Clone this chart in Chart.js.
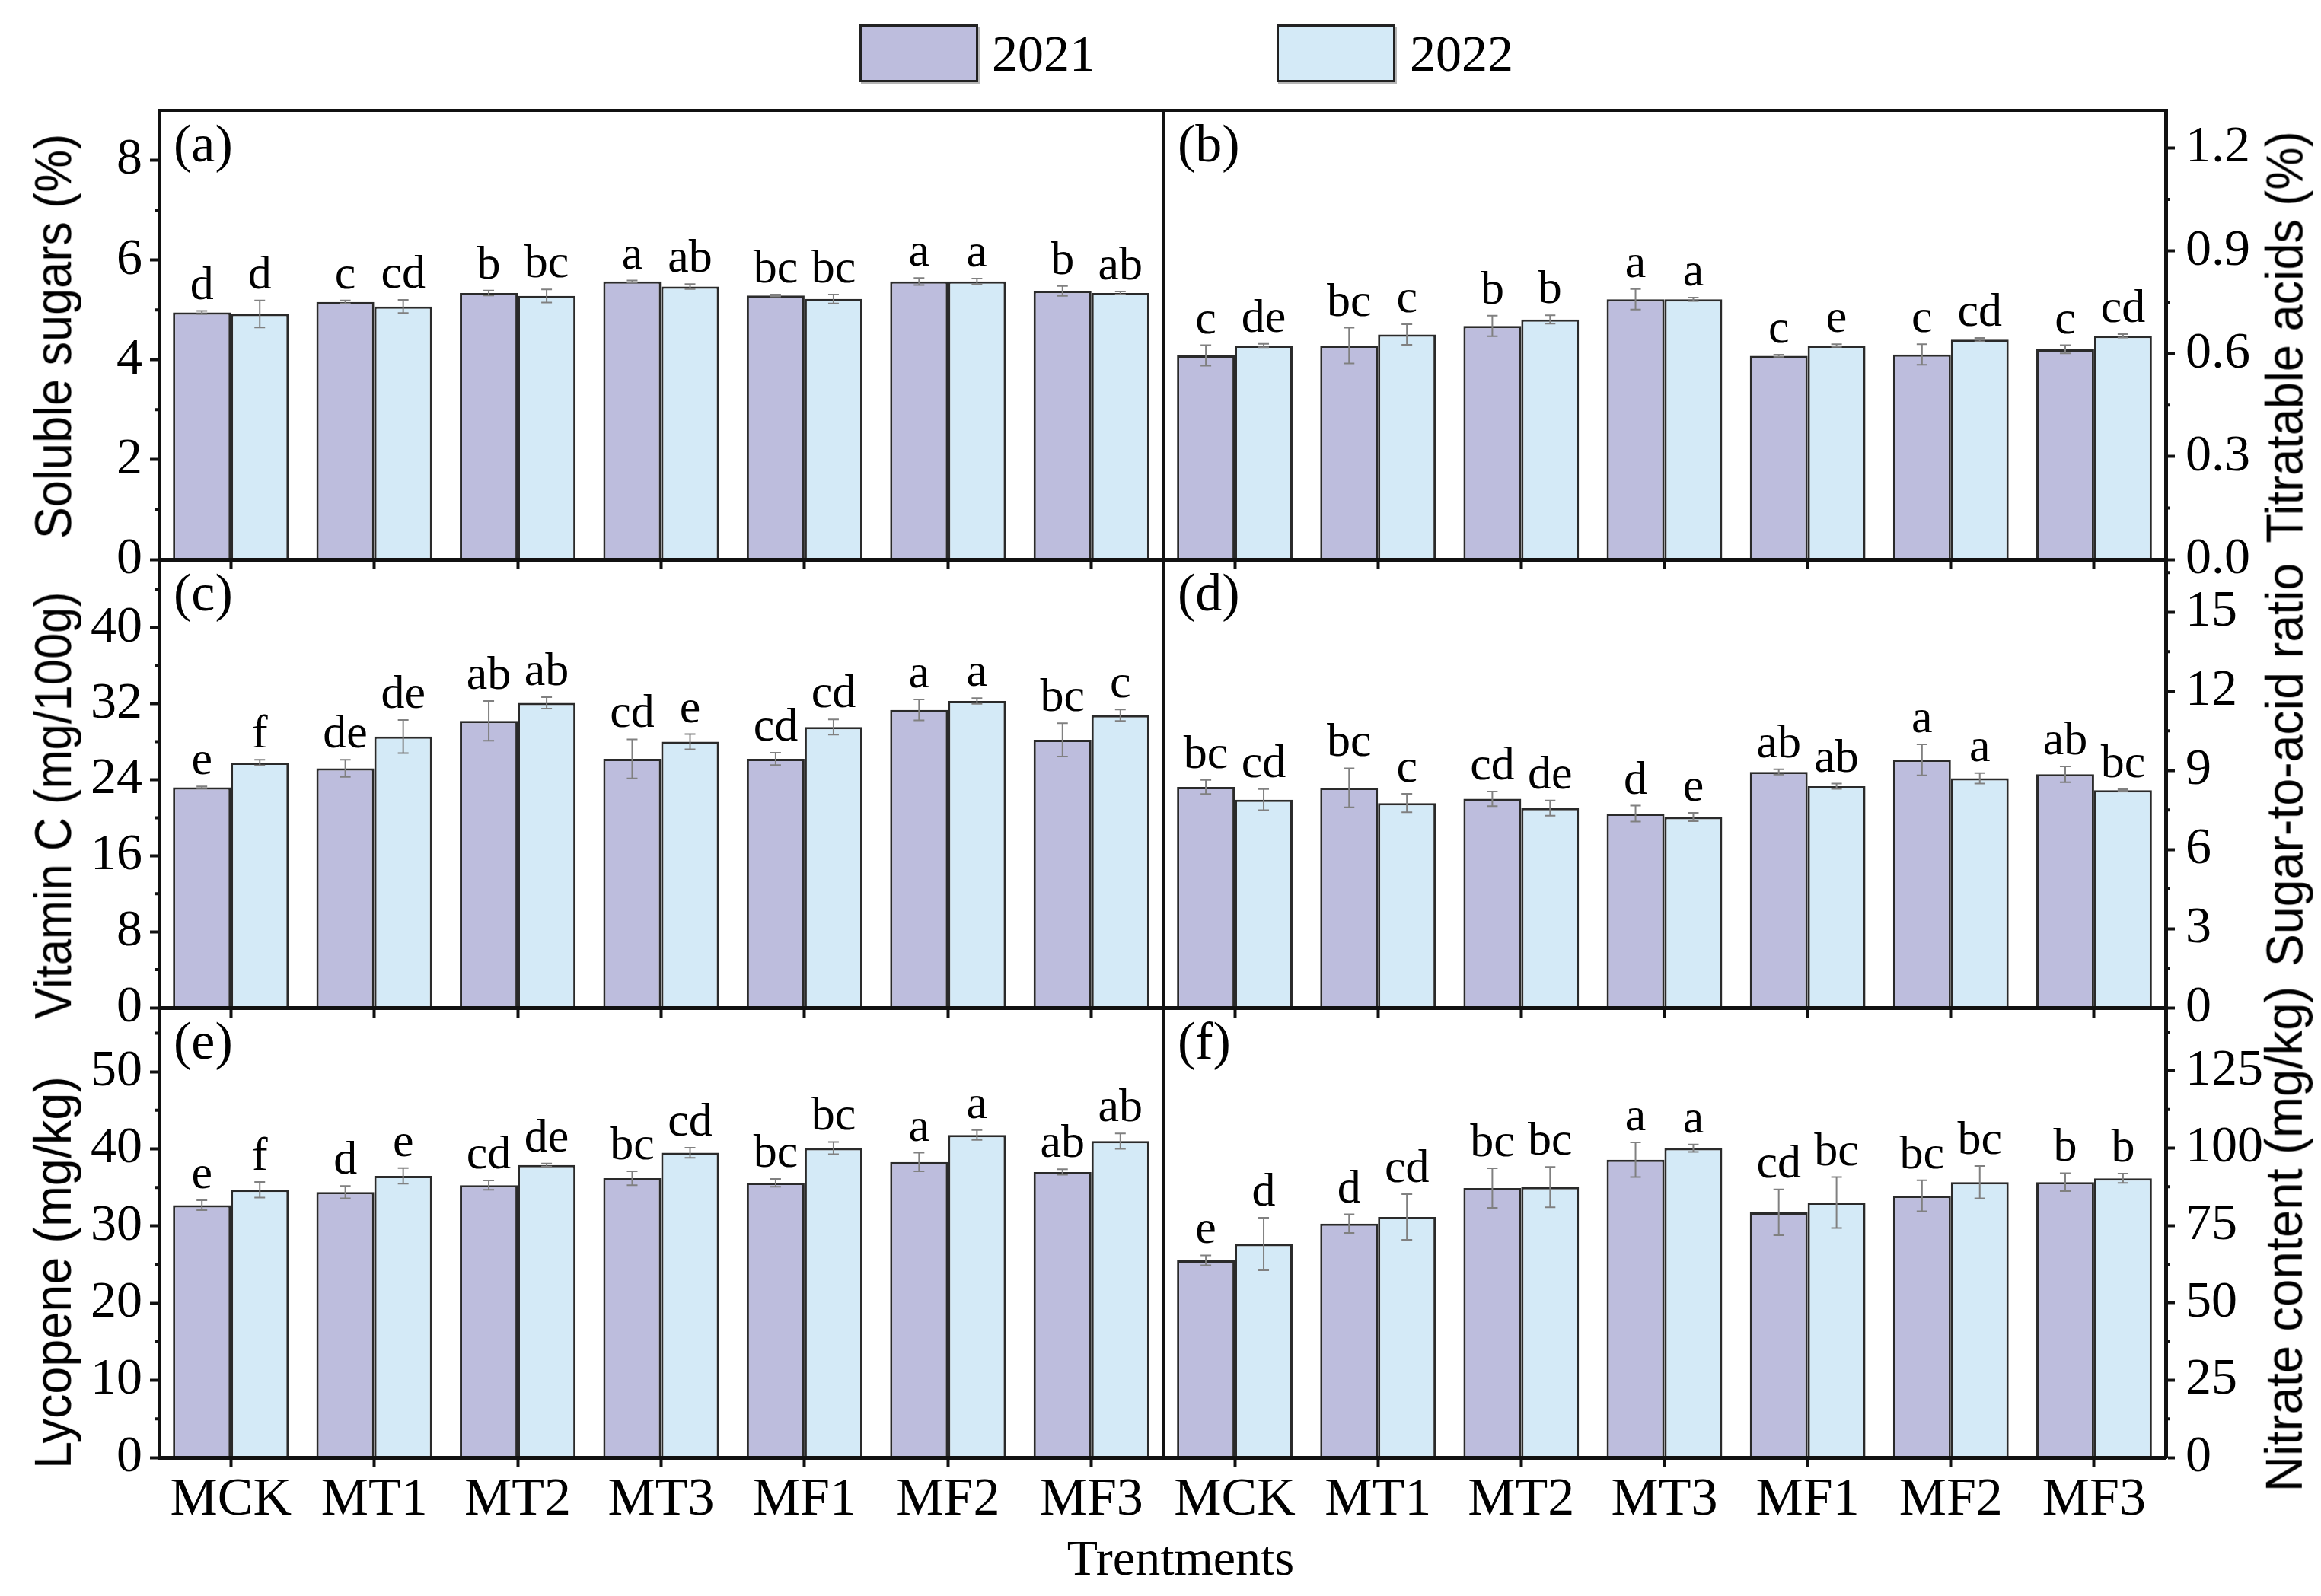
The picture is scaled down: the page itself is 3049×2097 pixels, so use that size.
<!DOCTYPE html>
<html>
<head>
<meta charset="utf-8">
<script src="https://cdn.jsdelivr.net/npm/chart.js@4.4.1/dist/chart.umd.min.js"></script>
<style>
  body { margin: 0; background: #fff; width: 3049px; height: 2097px; position: relative; overflow: hidden; font-family: "Liberation Serif", serif; }
  canvas { position: absolute; }
  .leg-box { position: absolute; width: 150px; height: 70px; border: 3px solid #222; box-shadow: 2px 3px 0 #b5b5b5; }
  .leg-text { position: absolute; font-size: 68px; line-height: 68px; color: #000; white-space: nowrap; }
  .ytitle { position: absolute; font-family: "Liberation Sans", sans-serif; font-size: 68px; line-height: 68px; white-space: nowrap; color: #000; transform-origin: 50% 50%; }
  #xtitle { position: absolute; left: 1051px; width: 1000px; top: 2013px; text-align: center; font-size: 66px; line-height: 68px; }
</style>
</head>
<body>
<div id="xtitle">Trentments</div>
<script>
const treatments = ["MCK", "MT1", "MT2", "MT3", "MF1", "MF2", "MF3"];
const years = ["2021", "2022"];
const yearColors = ["#BDBDDD", "#D4EAF7"];

// (a) soluble sugars
const sugar2021 = [4.95, 5.16, 5.34, 5.57, 5.29, 5.57, 5.38];
const sugar2022 = [4.92, 5.07, 5.28, 5.47, 5.22, 5.57, 5.34];
const sugarErr2021 = [0.03, 0.03, 0.05, 0.02, 0.02, 0.07, 0.10];
const sugarErr2022 = [0.27, 0.13, 0.13, 0.05, 0.09, 0.06, 0.03];
const sugarSig2021 = ["d", "c", "b", "a", "bc", "a", "b"];
const sugarSig2022 = ["d", "cd", "bc", "ab", "bc", "a", "ab"];

// (b) titratable acids
const acid2021 = [0.595, 0.624, 0.681, 0.759, 0.594, 0.598, 0.613];
const acid2022 = [0.624, 0.656, 0.700, 0.759, 0.624, 0.641, 0.652];
const acidErr2021 = [0.03, 0.052, 0.03, 0.03, 0.003, 0.03, 0.012];
const acidErr2022 = [0.005, 0.03, 0.012, 0.005, 0.004, 0.005, 0.005];
const acidSig2021 = ["c", "bc", "b", "a", "c", "c", "c"];
const acidSig2022 = ["de", "c", "b", "a", "e", "cd", "cd"];

// (c) vitamin C
const vitc2021 = [23.2, 25.2, 30.2, 26.2, 26.2, 31.35, 28.2];
const vitc2022 = [25.8, 28.55, 32.1, 28.0, 29.55, 32.3, 30.8];
const vitcErr2021 = [0.1, 0.9, 2.1, 2.05, 0.65, 1.1, 1.75];
const vitcErr2022 = [0.3, 1.75, 0.6, 0.8, 0.8, 0.3, 0.6];
const vitcSig2021 = ["e", "de", "ab", "cd", "cd", "a", "bc"];
const vitcSig2022 = ["f", "de", "ab", "e", "cd", "a", "c"];

// (d) sugar-to-acid ratio
const ratio2021 = [8.37, 8.34, 7.92, 7.36, 8.94, 9.40, 8.85];
const ratio2022 = [7.89, 7.76, 7.57, 7.23, 8.40, 8.70, 8.25];
const ratioErr2021 = [0.27, 0.74, 0.28, 0.3, 0.1, 0.59, 0.3];
const ratioErr2022 = [0.4, 0.35, 0.29, 0.16, 0.1, 0.2, 0.03];
const ratioSig2021 = ["bc", "bc", "cd", "d", "ab", "a", "ab"];
const ratioSig2022 = ["cd", "c", "de", "e", "ab", "a", "bc"];

// (e) lycopene
const lyco2021 = [32.7, 34.4, 35.3, 36.2, 35.6, 38.3, 37.0];
const lyco2022 = [34.7, 36.5, 37.9, 39.5, 40.1, 41.8, 41.0];
const lycoErr2021 = [0.65, 0.8, 0.6, 0.9, 0.5, 1.2, 0.35];
const lycoErr2022 = [1.0, 1.0, 0.2, 0.65, 0.8, 0.65, 1.0];
const lycoSig2021 = ["e", "d", "cd", "bc", "bc", "a", "ab"];
const lycoSig2022 = ["f", "e", "de", "cd", "bc", "a", "ab"];

// (f) nitrate content
const nitrate2021 = [63.75, 75.6, 87.1, 96.25, 79.25, 84.6, 89.0];
const nitrate2022 = [69.0, 77.75, 87.4, 100.0, 82.4, 89.0, 90.25];
const nitrateErr2021 = [1.6, 3.0, 6.4, 5.6, 7.4, 5.0, 2.9];
const nitrateErr2022 = [8.5, 7.4, 6.5, 1.2, 8.25, 5.2, 1.5];
const nitrateSig2021 = ["e", "d", "bc", "a", "cd", "bc", "b"];
const nitrateSig2022 = ["d", "cd", "bc", "a", "bc", "bc", "b"];

// tlen / tcy: length and centre of the rotated axis title on the page
const panels = [
  { label: "(a)", col: 0, row: 0, title: "Soluble sugars (%)", max: 9, major: 2, dec: 0, tlen: 532, tcy: 442,
    vals: [sugar2021, sugar2022], errs: [sugarErr2021, sugarErr2022], sigs: [sugarSig2021, sugarSig2022] },
  { label: "(b)", col: 1, row: 0, title: "Titratable acids (%)", max: 1.31, major: 0.3, dec: 1, tlen: 541, tcy: 443,
    vals: [acid2021, acid2022], errs: [acidErr2021, acidErr2022], sigs: [acidSig2021, acidSig2022] },
  { label: "(c)", col: 0, row: 1, title: "Vitamin C (mg/100g)", max: 47.2, major: 8, dec: 0, tlen: 561, tcy: 1058,
    vals: [vitc2021, vitc2022], errs: [vitcErr2021, vitcErr2022], sigs: [vitcSig2021, vitcSig2022] },
  { label: "(d)", col: 1, row: 1, title: "Sugar-to-acid ratio", max: 17, major: 3, dec: 0, tlen: 530, tcy: 1005,
    vals: [ratio2021, ratio2022], errs: [ratioErr2021, ratioErr2022], sigs: [ratioSig2021, ratioSig2022] },
  { label: "(e)", col: 0, row: 2, title: "Lycopene (mg/kg)", max: 58.3, major: 10, dec: 0, tlen: 516, tcy: 1672,
    vals: [lyco2021, lyco2022], errs: [lycoErr2021, lycoErr2022], sigs: [lycoSig2021, lycoSig2022] },
  { label: "(f)", col: 1, row: 2, title: "Nitrate content (mg/kg)", max: 145.4, major: 25, dec: 0, tlen: 665, tcy: 1628,
    vals: [nitrate2021, nitrate2022], errs: [nitrateErr2021, nitrateErr2022], sigs: [nitrateSig2021, nitrateSig2022] },
];

// page layout
const rowTops = [145, 735, 1324];
const rowBottoms = [735, 1324, 1915];
const colLeft = [0, 1516];
const colWidth = [1540, 1533];
const axisW = [209, 204];
const titleX = [69, 3000];
const PAD_TOP = 40;
const INK = "#111";
const SERIF = "Liberation Serif";

// legend
const legendBox = [1129, 1677];
const legendText = [1303, 1852];
years.forEach((yr, i) => {
  const b = document.createElement("div");
  b.className = "leg-box";
  b.style.left = legendBox[i] + "px";
  b.style.top = "32px";
  b.style.background = yearColors[i];
  document.body.appendChild(b);
  const t = document.createElement("div");
  t.className = "leg-text";
  t.style.left = legendText[i] + "px";
  t.style.top = "36px";
  t.textContent = yr;
  document.body.appendChild(t);
});

const deco = {
  id: "deco",
  afterDatasetsDraw(chart) {
    const ctx = chart.ctx, y = chart.scales.y;
    chart.data.datasets.forEach((ds, di) => {
      chart.getDatasetMeta(di).data.forEach((bar, i) => {
        const v = ds.data[i], e = ds.err[i];
        const yt = y.getPixelForValue(v + e), yb = y.getPixelForValue(v - e);
        ctx.save();
        ctx.strokeStyle = "#808080";
        ctx.lineWidth = 2;
        ctx.beginPath();
        ctx.moveTo(bar.x, yt); ctx.lineTo(bar.x, yb);
        ctx.moveTo(bar.x - 7, yt); ctx.lineTo(bar.x + 7, yt);
        ctx.moveTo(bar.x - 7, yb); ctx.lineTo(bar.x + 7, yb);
        ctx.stroke();
        ctx.fillStyle = "#000";
        ctx.font = `62px "${SERIF}"`;
        ctx.textAlign = "center";
        ctx.textBaseline = "alphabetic";
        ctx.fillText(ds.sig[i], bar.x, yt - 16);
        ctx.restore();
      });
    });
  },
  afterDraw(chart, args, o) {
    const ctx = chart.ctx, ca = chart.chartArea, y = chart.scales.y;
    ctx.save();
    ctx.strokeStyle = INK;
    ctx.lineWidth = 4;
    ctx.strokeRect(ca.left, ca.top, ca.right - ca.left, ca.bottom - ca.top);
    // minor ticks halfway between the major ones
    ctx.beginPath();
    for (let v = o.major / 2; v < o.max; v += o.major) {
      const py = y.getPixelForValue(v);
      if (o.right) { ctx.moveTo(ca.right, py); ctx.lineTo(ca.right + 6, py); }
      else { ctx.moveTo(ca.left - 6, py); ctx.lineTo(ca.left, py); }
    }
    ctx.stroke();
    ctx.fillStyle = "#000";
    ctx.font = `70px "${SERIF}"`;
    ctx.textAlign = "left";
    ctx.textBaseline = "top";
    ctx.fillText(o.label, ca.left + 19, ca.top + 14);
    ctx.restore();
  }
};

panels.forEach((p) => {
  const bottomRow = p.row === 2;
  const xAxisH = bottomRow ? 125 : 25;
  const h = rowBottoms[p.row] - rowTops[p.row] + PAD_TOP + xAxisH;
  const canvas = document.createElement("canvas");
  canvas.width = colWidth[p.col];
  canvas.height = h;
  canvas.style.left = colLeft[p.col] + "px";
  canvas.style.top = (rowTops[p.row] - PAD_TOP) + "px";
  document.body.appendChild(canvas);

  // rotated axis title, reading bottom to top on both sides
  const t = document.createElement("div");
  t.className = "ytitle";
  t.textContent = p.title;
  document.body.appendChild(t);
  const w = t.offsetWidth, th = t.offsetHeight;
  t.style.left = (titleX[p.col] - w / 2) + "px";
  t.style.top = (p.tcy - th / 2) + "px";
  t.style.transform = `rotate(-90deg) scaleX(${p.tlen / w})`;

  const right = p.col === 1;
  const fmt = (v) => p.dec ? v.toFixed(p.dec) : String(Math.round(v));
  const zeroPad = (s) => { s.paddingTop = 0; s.paddingBottom = 0; s.paddingLeft = 0; s.paddingRight = 0; };

  new Chart(canvas, {
    type: "bar",
    data: {
      labels: treatments,
      datasets: years.map((yr, i) => ({
        label: yr,
        data: p.vals[i],
        err: p.errs[i],
        sig: p.sigs[i],
        backgroundColor: yearColors[i],
        borderColor: "#2a2a2a",
        borderWidth: 3,
        categoryPercentage: 0.807,
        barPercentage: 1.0,
      })),
    },
    options: {
      responsive: false,
      animation: false,
      devicePixelRatio: 1,
      layout: { padding: { top: PAD_TOP, left: right ? 12 : 0, right: right ? 0 : 12, bottom: 0 } },
      plugins: {
        legend: { display: false },
        tooltip: { enabled: false },
        deco: { label: p.label, major: p.major, max: p.max, right },
      },
      scales: {
        x: {
          offset: true,
          grid: { offset: false, drawOnChartArea: false, tickLength: 13, tickWidth: 4, tickColor: INK },
          border: { display: true, width: 5, color: INK },
          ticks: {
            display: bottomRow, autoSkip: false, maxRotation: 0, padding: 2,
            color: "#000", font: { family: SERIF, size: 70 },
          },
          afterFit(s) { s.height = xAxisH; zeroPad(s); },
        },
        y: {
          position: right ? "right" : "left",
          min: 0,
          max: p.max,
          grid: { drawOnChartArea: false, tickLength: 12, tickWidth: 4, tickColor: INK },
          border: { display: true, width: 5, color: INK },
          ticks: {
            stepSize: p.major, includeBounds: false, padding: right ? 14 : 10,
            color: "#000", font: { family: SERIF, size: 68 },
            callback: (v) => fmt(v),
          },
          afterFit(s) { s.width = axisW[p.col]; zeroPad(s); },
        },
      },
    },
    plugins: [deco],
  });
});
</script>
</body>
</html>
